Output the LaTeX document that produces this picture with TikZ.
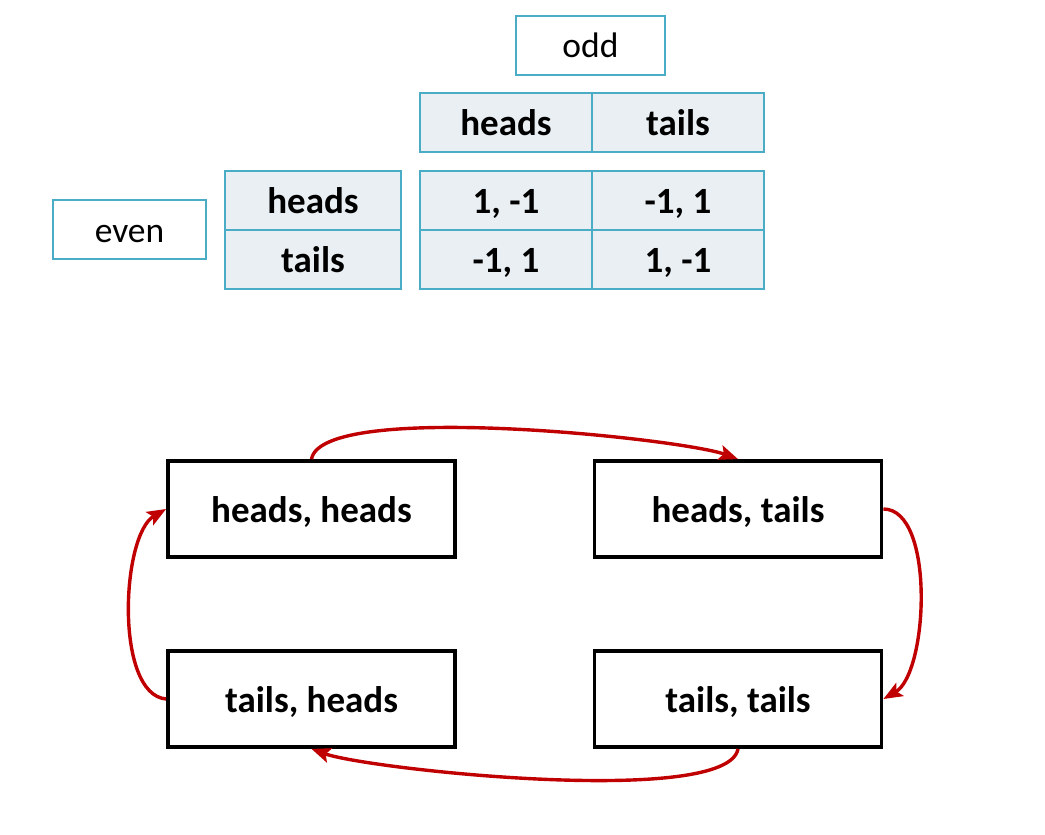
\documentclass[tikz,border=0pt]{standalone}
\usepackage{fontspec}
\setmainfont{Carlito}
\usetikzlibrary{positioning, arrows.meta}
\definecolor{cellline}{RGB}{75,172,198}
\definecolor{cellfill}{RGB}{233,239,243}
\definecolor{arcred}{RGB}{192,0,0}
\tikzset{
    labelnode/.style = {draw=cellline, fill=white, rectangle, line width=1.8pt, inner sep=0pt,
      node distance=0em, minimum height=59pt, text height=28pt, text depth=4pt,
      font=\fontsize{35.5}{40}\selectfont},
    cellnode/.style = {draw=cellline, fill=cellfill, rectangle, line width=1.8pt, inner sep=0pt,
      node distance=0em, minimum width=172pt, minimum height=59pt, text height=30pt, text depth=4pt,
      font=\fontsize{37}{42}\selectfont\bfseries},
    statenode/.style = {draw, rectangle, line width=3.8pt, inner sep=0pt, node distance=0em,
      minimum width=287pt, minimum height=96pt, text height=30pt, text depth=4pt,
      font=\fontsize{37}{42}\selectfont\bfseries},
    move/.style = {arcred, line width=3.4pt, -{Stealth[length=19pt,width=15pt,inset=4pt]}}
}

\begin{document}
\begin{tikzpicture}[x=1pt, y=1pt]
\useasboundingbox (0,0) rectangle (1045,-835);

% payoff table
\node [labelnode, name=Odd, minimum width=149pt] at (590.5,-45.5) {odd};
\node [cellnode, name=OddHeads] at (506,-122.5) {heads};
\node [cellnode, name=OddTails, right of=OddHeads, xshift=172pt] {tails};
\node [cellnode, name=HH, below of=OddHeads, yshift=-78pt] {1, -1};
\node [cellnode, name=HT, right of=HH, xshift=172pt] {-1, 1};
\node [cellnode, name=TH, below of=HH, yshift=-59pt] {-1, 1};
\node [cellnode, name=TT, right of=TH, xshift=172pt] {1, -1};
\node [cellnode, name=EvenHeads, minimum width=176pt, left of=HH, xshift=-193pt] {heads};
\node [cellnode, name=EvenTails, minimum width=176pt, below of=EvenHeads, yshift=-59pt] {tails};
\node [labelnode, name=Even, minimum width=153pt, text height=25pt, text depth=0pt] at (129.5,-229.5) {even};

% best-response cycle
\node [statenode, name=hh] at (311.5,-509) {heads, heads};
\node [statenode, name=ht, right of=hh, xshift=426.5pt] {heads, tails};
\node [statenode, name=th, below of=hh, yshift=-190pt] {tails, heads};
\node [statenode, name=tt, below of=ht, yshift=-190pt] {tails, tails};

\draw [move] (hh.north) to[out=80, in=160, looseness=0.36] (ht.north);
\draw [move] (ht.east) to[out=0, in=30, looseness=0.7] (tt.east);
\draw [move] (tt.south) to[out=-100, in=-20, looseness=0.36] (th.south);
\draw [move] (th.west) to[out=175, in=210, looseness=0.7] (hh.west);
\end{tikzpicture}
\end{document}
